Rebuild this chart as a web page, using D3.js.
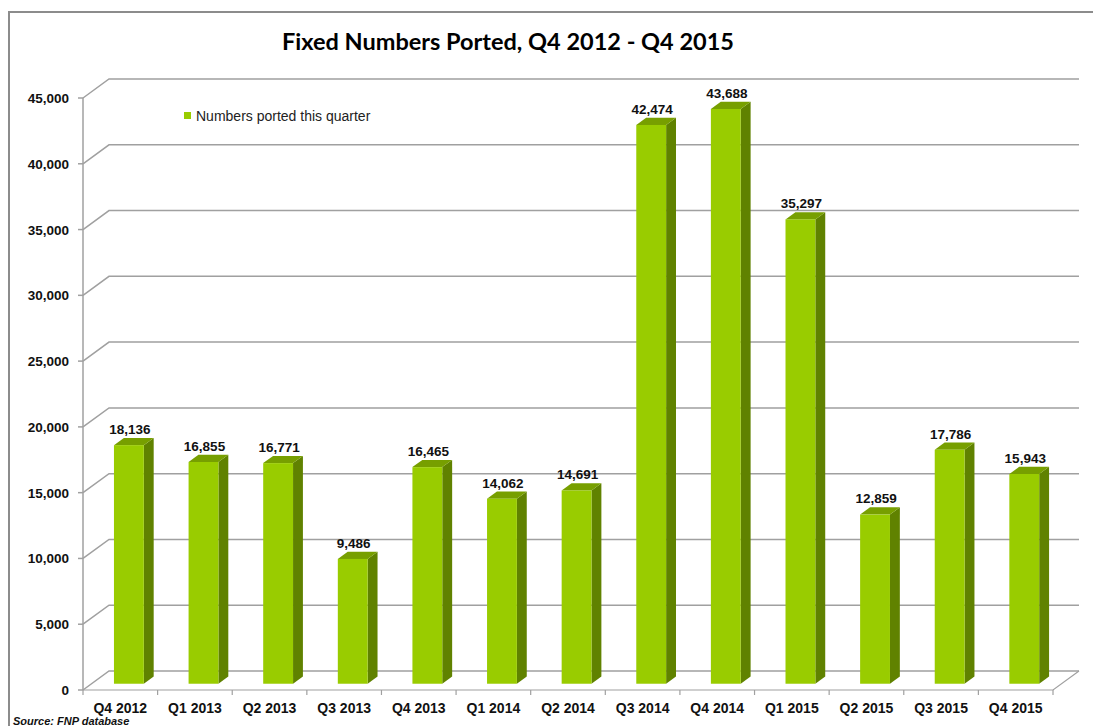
<!DOCTYPE html>
<html>
<head>
<meta charset="utf-8">
<script src="https://cdn.jsdelivr.net/npm/d3@7"></script>
<style>
  body { margin: 0; background: #fff; }
  svg { display: block; }
</style>
</head>
<body>
<div id="chart"></div>
<script>
// Chart data
const quarters = ['Q4 2012', 'Q1 2013', 'Q2 2013', 'Q3 2013', 'Q4 2013', 'Q1 2014', 'Q2 2014',
  'Q3 2014', 'Q4 2014', 'Q1 2015', 'Q2 2015', 'Q3 2015', 'Q4 2015'];
const portedValues = [18136, 16855, 16771, 9486, 16465, 14062, 14691,
  42474, 43688, 35297, 12859, 17786, 15943];
const yTicks = [0, 5000, 10000, 15000, 20000, 25000, 30000, 35000, 40000, 45000];
const seriesName = 'Numbers ported this quarter';

const width = 1093, height = 726;

// 3D look: depth vector from front of floor to back wall
const depth = { dx: 26, dy: -19 };
const barFront = 0.33, barBack = 0.71;

const colors = {
  front: '#99cc00',
  top: '#779f00',
  side: '#608200',
  grid: '#a0a0a0',
  border: '#8c8c8c'
};

const svg = d3.select('#chart').append('svg')
  .attr('width', width)
  .attr('height', height);

// Outer chart border (top and left)
svg.append('path')
  .attr('d', `M9,${height} L9,12 L${width},12`)
  .attr('fill', 'none')
  .attr('stroke', colors.border)
  .attr('stroke-width', 2);

// Scales (front plane)
const xScale = d3.scaleBand()
  .domain(quarters)
  .range([83, 1053])
  .paddingInner(0.6)
  .paddingOuter(0.3);

const yScale = d3.scaleLinear()
  .domain([0, 45000])
  .range([690, 98]);

const x0 = xScale.range()[0], x1 = xScale.range()[1];
const step = xScale.step();

// Gridlines: side wall diagonal + back wall horizontal
const grid = svg.append('g').attr('class', 'grid');
yTicks.forEach(v => {
  const y = yScale(v);
  grid.append('path')
    .attr('d', `M${x0},${y} L${x0 + depth.dx},${y + depth.dy} L${x1 + depth.dx},${y + depth.dy}`)
    .attr('fill', 'none')
    .attr('stroke', colors.grid)
    .attr('stroke-width', 1.5);
});

// Floor: front edge and right diagonal
const yZero = yScale(0);
grid.append('path')
  .attr('d', `M${x0},${yZero} L${x1},${yZero} L${x1 + depth.dx},${yZero + depth.dy}`)
  .attr('fill', 'none')
  .attr('stroke', colors.grid)
  .attr('stroke-width', 1.2);

// Y axis line
grid.append('line')
  .attr('x1', x0).attr('x2', x0)
  .attr('y1', yScale(45000)).attr('y2', yZero)
  .attr('stroke', colors.grid)
  .attr('stroke-width', 1.5);

// Y axis ticks and labels
const yAxis = svg.append('g').attr('class', 'y-axis');
yTicks.forEach(v => {
  const y = yScale(v);
  yAxis.append('line')
    .attr('x1', x0 - 5).attr('x2', x0)
    .attr('y1', y).attr('y2', y)
    .attr('stroke', colors.grid)
    .attr('stroke-width', 1.5);
  yAxis.append('text')
    .attr('x', 69)
    .attr('y', y + 5)
    .attr('text-anchor', 'end')
    .attr('font-family', 'Liberation Sans, Arial, sans-serif')
    .attr('font-weight', 'bold')
    .attr('font-size', 13.5)
    .attr('fill', '#111')
    .text(d3.format(',')(v));
});

// X axis ticks and labels
const xAxis = svg.append('g').attr('class', 'x-axis');
d3.range(quarters.length + 1).forEach(i => {
  const x = x0 + i * step;
  xAxis.append('line')
    .attr('x1', x).attr('x2', x)
    .attr('y1', yZero).attr('y2', yZero + 5)
    .attr('stroke', colors.grid)
    .attr('stroke-width', 1.2);
});
quarters.forEach((q, i) => {
  xAxis.append('text')
    .attr('x', x0 + i * step + step / 2)
    .attr('y', 713)
    .attr('text-anchor', 'middle')
    .attr('font-family', 'Liberation Sans, Arial, sans-serif')
    .attr('font-weight', 'bold')
    .attr('font-size', 14)
    .attr('fill', '#111')
    .text(q);
});

// Bars
const ddx = depth.dx * (barBack - barFront);
const ddy = depth.dy * (barBack - barFront);
const bars = svg.append('g').attr('class', 'bars');

quarters.forEach((q, i) => {
  const v = portedValues[i];
  const bx0 = xScale(q) + depth.dx * barFront;
  const bx1 = bx0 + xScale.bandwidth();
  const yTop = yScale(v) + depth.dy * barFront;
  const yBot = yScale(0) + depth.dy * barFront;

  // side face
  bars.append('polygon')
    .attr('points', [[bx1, yTop], [bx1 + ddx, yTop + ddy], [bx1 + ddx, yBot + ddy], [bx1, yBot]].join(' '))
    .attr('fill', colors.side);

  // top face
  bars.append('polygon')
    .attr('points', [[bx0, yTop], [bx1, yTop], [bx1 + ddx, yTop + ddy], [bx0 + ddx, yTop + ddy]].join(' '))
    .attr('fill', colors.top);

  // front face
  bars.append('rect')
    .attr('x', bx0)
    .attr('y', yTop)
    .attr('width', xScale.bandwidth())
    .attr('height', yBot - yTop)
    .attr('fill', colors.front);

  // value label
  bars.append('text')
    .attr('x', (bx0 + bx1) / 2 + 1)
    .attr('y', yTop + ddy - 4)
    .attr('text-anchor', 'middle')
    .attr('font-family', 'Liberation Sans, Arial, sans-serif')
    .attr('font-weight', 'bold')
    .attr('font-size', 13.5)
    .attr('fill', '#111')
    .text(d3.format(',')(v));
});

// Legend
const legend = svg.append('g').attr('class', 'legend');
legend.append('rect')
  .attr('x', 184).attr('y', 112)
  .attr('width', 7).attr('height', 7)
  .attr('fill', colors.front);
legend.append('text')
  .attr('x', 196)
  .attr('y', 121)
  .attr('font-family', 'Liberation Sans, Arial, sans-serif')
  .attr('font-size', 14)
  .attr('fill', '#222')
  .text(seriesName);

// Title
svg.append('text')
  .attr('x', 508)
  .attr('y', 50)
  .attr('text-anchor', 'middle')
  .attr('font-family', 'Lato, sans-serif')
  .attr('font-weight', 'bold')
  .attr('font-size', 23.5)
  .attr('fill', '#000')
  .text('Fixed Numbers Ported, Q4 2012 - Q4 2015');

// Source note
svg.append('text')
  .attr('x', 13)
  .attr('y', 725)
  .attr('font-family', 'Liberation Sans, Arial, sans-serif')
  .attr('font-weight', 'bold')
  .attr('font-style', 'italic')
  .attr('font-size', 11)
  .attr('fill', '#111')
  .text('Source:  FNP database');
</script>
</body>
</html>
